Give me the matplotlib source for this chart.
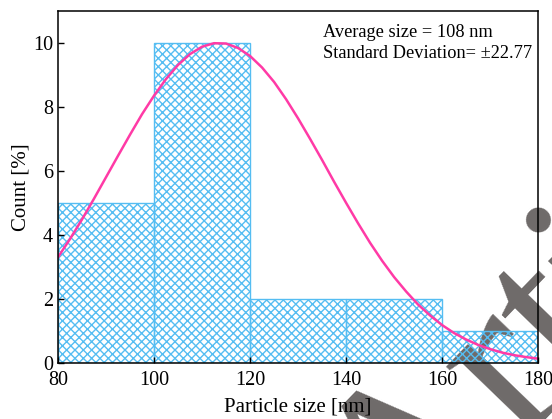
import matplotlib.pyplot as plt

plt.rcParams['font.family'] = 'Liberation Serif'

# histogram bins (nm) and counts (%)
bin_left = [80, 100, 120, 140, 160]
counts = [5, 10, 2, 2, 1]
bin_width = 20

# gaussian fit read every 2.5 nm
fit_x = [80, 82.5, 85, 87.5, 90, 92.5, 95, 97.5, 100, 102.5, 105, 107.5,
         110, 112.5, 115, 117.5, 120, 122.5, 125, 127.5, 130, 132.5, 135,
         137.5, 140, 142.5, 145, 147.5, 150, 152.5, 155, 157.5, 160, 162.5,
         165, 167.5, 170, 172.5, 175, 177.5, 180]
fit_y = [3.30, 3.87, 4.48, 5.13, 5.80, 6.47, 7.13, 7.77, 8.35, 8.87, 9.31, 9.65,
         9.88, 9.99, 9.98, 9.84, 9.59, 9.23, 8.78, 8.24, 7.64, 7.00, 6.34,
         5.66, 5.00, 4.36, 3.75, 3.19, 2.68, 2.23, 1.82, 1.48, 1.18, 0.93,
         0.73, 0.56, 0.43, 0.32, 0.24, 0.18, 0.13]

mean_size = 108
std_dev = 22.77

fig = plt.figure(figsize=(5.52, 4.19), dpi=100)
ax = fig.add_axes([0.105, 0.134, 0.870, 0.840])
ax.patch.set_alpha(0)

# big grey stamp behind the plot
fig.text(403/552, 1 - 565/419, 'Article', fontsize=169, color='#6e6a69',
         rotation=46, rotation_mode='anchor', ha='left', va='baseline',
         family='Liberation Serif', zorder=-1)

ax.bar(bin_left, counts, width=bin_width, align='edge', fill=False,
       hatch='xxxx', edgecolor='#55bdf2', linewidth=1.0)
ax.plot(fit_x, fit_y, color='#ff3aa6', linewidth=1.8)

ax.set_xlim(80, 180)
ax.set_ylim(0, 11)
ax.set_xticks([80, 100, 120, 140, 160, 180])
ax.set_yticks([0, 2, 4, 6, 8, 10])
ax.tick_params(direction='in', length=4, width=1, labelsize=14.5)
ax.tick_params(axis='x', pad=6)
for s in ax.spines.values():
    s.set_linewidth(1.1)

ax.set_xlabel('Particle size [nm]', fontsize=15, labelpad=5)
ax.set_ylabel('Count [%]', fontsize=15, labelpad=2)

ax.text(0.552, 0.963, 'Average size = %d nm\nStandard Deviation= ±%.2f' % (mean_size, std_dev),
        transform=ax.transAxes, fontsize=13.2, va='top', ha='left', linespacing=1.3)

fig.savefig('out.png', dpi=100)
